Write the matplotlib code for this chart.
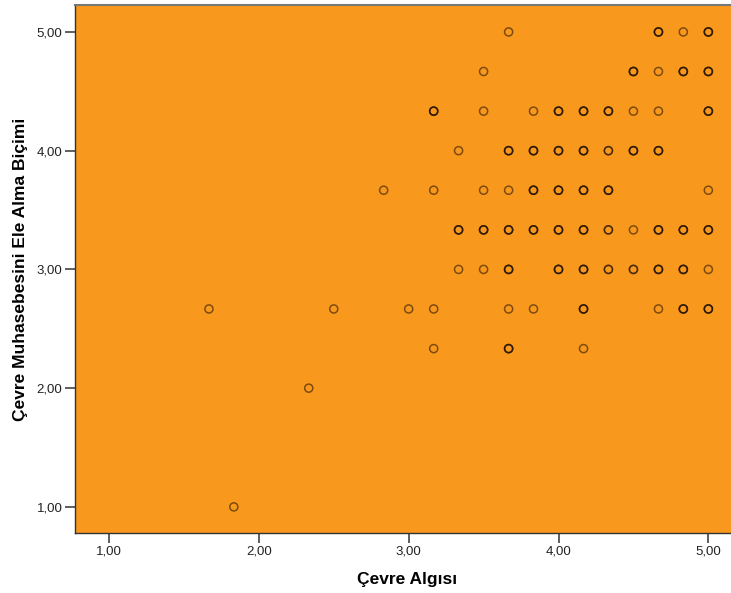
import matplotlib
matplotlib.use('Agg')
import matplotlib.pyplot as plt
from matplotlib.ticker import FuncFormatter

plt.rcParams['font.family'] = ['Liberation Sans', 'DejaVu Sans']

# scatter points (x, y, overlap count)
x_vals = [3.667, 4.667, 4.833, 5.0,
          3.5, 4.5, 4.667, 4.833, 5.0,
          3.167, 3.5, 3.833, 4.0, 4.167, 4.333, 4.5, 4.667, 5.0,
          3.333, 3.667, 3.833, 4.0, 4.167, 4.333, 4.5, 4.667,
          2.833, 3.167, 3.5, 3.667, 3.833, 4.0, 4.167, 4.333, 5.0,
          3.333, 3.5, 3.667, 3.833, 4.0, 4.167, 4.333, 4.5, 4.667, 4.833, 5.0,
          3.333, 3.5, 3.667, 4.0, 4.167, 4.333, 4.5, 4.667, 4.833, 5.0,
          1.667, 2.5, 3.0, 3.167, 3.667, 3.833, 4.167, 4.667, 4.833, 5.0,
          3.167, 3.667, 4.167,
          2.333,
          1.833]
y_vals = [5.0] * 4 + [4.667] * 5 + [4.333] * 9 + [4.0] * 8 + [3.667] * 9 + \
         [3.333] * 11 + [3.0] * 10 + [2.667] * 10 + [2.333] * 3 + [2.0] + [1.0]
counts = [1, 3, 1, 3,
          1, 3, 1, 3, 3,
          3, 1, 1, 3, 3, 3, 1, 1, 3,
          1, 3, 3, 3, 3, 2, 3, 3,
          1, 1, 1, 1, 3, 3, 3, 3, 1,
          3, 3, 3, 3, 3, 3, 2, 1, 3, 3, 3,
          1, 1, 3, 3, 3, 2, 2, 3, 3, 1,
          1, 1, 1, 1, 1, 1, 3, 1, 3, 3,
          1, 3, 1,
          1,
          1]

ticks = [1.0, 2.0, 3.0, 4.0, 5.0]

fig = plt.figure(figsize=(7.31, 5.93), dpi=100)
ax = fig.add_axes([75 / 731, 1 - 533 / 593, 1 - 75 / 731 + 0.01, (533 - 5) / 593])
ax.set_facecolor('#f8981d')

# overlapping cases are drawn several times so they look darker
for k in range(3):
    xs = [x for x, c in zip(x_vals, counts) if c > k]
    ys = [y for y, c in zip(y_vals, counts) if c > k]
    ax.scatter(xs, ys, s=34, facecolors='none', edgecolors=(0.1, 0.05, 0.0, 0.55),
               linewidths=1.1)

ax.set_xlim(0.773, 5.2)
ax.set_ylim(0.78, 5.227)
ax.set_xticks(ticks)
ax.set_yticks(ticks)
fmt = FuncFormatter(lambda v, p: ('%.2f' % v).replace('.', ','))
ax.xaxis.set_major_formatter(fmt)
ax.yaxis.set_major_formatter(fmt)
ax.tick_params(axis='both', direction='out', length=7, width=1.2, color='#444444',
               labelsize=9.5, labelcolor='#222222', pad=2)

for side in ['left', 'bottom']:
    ax.spines[side].set_color('#333333')
    ax.spines[side].set_linewidth(1)
ax.spines['top'].set_color('#777777')
ax.spines['top'].set_linewidth(1.5)
ax.spines['right'].set_visible(False)

ax.set_xlabel('Çevre Algısı', fontsize=12.5, fontweight='bold', labelpad=10.5)
ax.set_ylabel('Çevre Muhasebesini Ele Alma Biçimi', fontsize=12.5, fontweight='bold',
              labelpad=6.5)

fig.savefig('out.png', dpi=100)
